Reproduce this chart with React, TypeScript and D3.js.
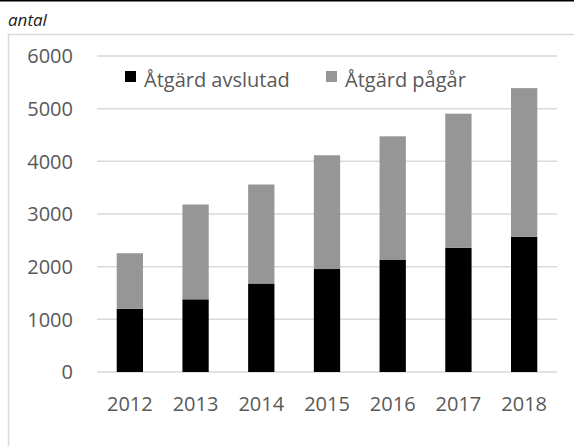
import { useEffect, useRef } from "react";
import * as d3 from "d3";

const years = ["2012", "2013", "2014", "2015", "2016", "2017", "2018"];
const avslutad = [1200, 1380, 1680, 1955, 2135, 2360, 2565];
const pagar = [1055, 1800, 1880, 2160, 2340, 2545, 2825];
const yTicks = [0, 1000, 2000, 3000, 4000, 5000, 6000];
const seriesNames = ["Åtgärd avslutad", "Åtgärd pågår"];
const seriesColors = ["#000000", "#969696"];

const W = 574;
const H = 446;
const FONT = "'Open Sans', sans-serif";

export default function App() {
  const svgRef = useRef<SVGSVGElement | null>(null);

  useEffect(() => {
    const svg = d3.select(svgRef.current);
    svg.selectAll("*").remove();

    const margin = { top: 56, right: 17, bottom: 74, left: 97 };
    const innerW = W - margin.left - margin.right;
    const innerH = H - margin.top - margin.bottom;

    // top rule and outer frame
    svg.append("line")
      .attr("x1", 0).attr("x2", W).attr("y1", 0.75).attr("y2", 0.75)
      .attr("stroke", "#000").attr("stroke-width", 1.5);
    svg.append("rect")
      .attr("x", 8.5).attr("y", 34.5).attr("width", 600).attr("height", 500)
      .attr("fill", "none").attr("stroke", "#d9d9d9").attr("stroke-width", 1.5);
    svg.append("text")
      .attr("x", 8).attr("y", 26)
      .attr("font-family", FONT).attr("font-style", "italic")
      .attr("font-size", 17).attr("fill", "#1a1a1a")
      .text("antal");

    const x = d3.scaleBand().domain(years).range([0, innerW]).paddingInner(0.6).paddingOuter(0.3);
    const y = d3.scaleLinear().domain([0, 6000]).range([innerH, 0]);

    const g = svg.append("g").attr("transform", `translate(${margin.left},${margin.top})`);

    g.selectAll("line.grid")
      .data(yTicks)
      .enter()
      .append("line")
      .attr("class", "grid")
      .attr("x1", 0).attr("x2", innerW)
      .attr("y1", (d) => y(d)).attr("y2", (d) => y(d))
      .attr("stroke", "#d9d9d9").attr("stroke-width", 1.5);

    g.selectAll("text.ytick")
      .data(yTicks)
      .enter()
      .append("text")
      .attr("class", "ytick")
      .attr("x", -24).attr("y", (d) => y(d))
      .attr("dy", "0.36em")
      .attr("text-anchor", "end")
      .attr("font-family", FONT).attr("font-size", 20).attr("fill", "#595959")
      .text((d) => String(d));

    g.selectAll("text.xtick")
      .data(years)
      .enter()
      .append("text")
      .attr("class", "xtick")
      .attr("x", (d) => (x(d) as number) + x.bandwidth() / 2)
      .attr("y", innerH + 39)
      .attr("text-anchor", "middle")
      .attr("font-family", FONT).attr("font-size", 20).attr("fill", "#595959")
      .text((d) => d);

    const table = years.map((yr, i) => ({ year: yr, avslutad: avslutad[i], pagar: pagar[i] }));
    const stack = d3.stack<{ year: string; avslutad: number; pagar: number }>().keys(["avslutad", "pagar"]);
    const layers = stack(table);

    layers.forEach((layer, li) => {
      g.append("g")
        .selectAll("rect")
        .data(layer)
        .enter()
        .append("rect")
        .attr("x", (d) => x(d.data.year) as number)
        .attr("width", x.bandwidth())
        .attr("y", (d) => y(d[1]))
        .attr("height", (d) => y(d[0]) - y(d[1]))
        .attr("fill", seriesColors[li]);
    });

    // legend
    const legendX = [125, 326];
    seriesNames.forEach((name, i) => {
      const lg = svg.append("g").attr("transform", `translate(${legendX[i]},71)`);
      lg.append("rect").attr("width", 11).attr("height", 11).attr("fill", seriesColors[i]);
      lg.append("text")
        .attr("x", 19).attr("y", 15.5)
        .attr("font-family", FONT).attr("font-size", 20).attr("fill", "#595959")
        .text(name);
    });
  }, []);

  return (
    <svg
      ref={svgRef}
      width={W}
      height={H}
      style={{ position: "absolute", left: 0, top: 0, background: "#fff" }}
    ></svg>
  );
}
